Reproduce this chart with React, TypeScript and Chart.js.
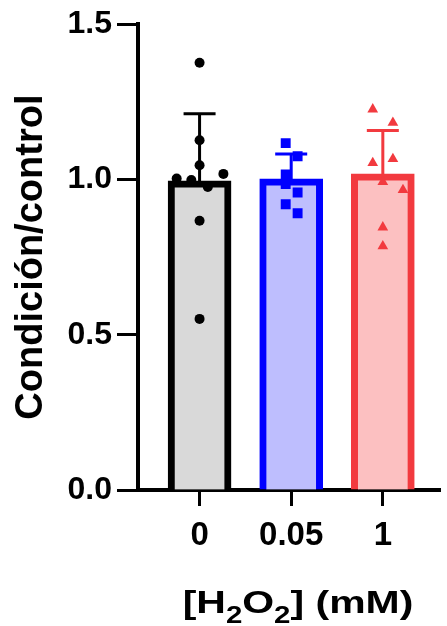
import React, { useEffect, useRef } from 'react';
import { Chart, registerables } from 'chart.js';

Chart.register(...registerables);

// ---- data ----
const categories = ['0', '0.05', '1'];
const yTicks = [0, 0.5, 1.0, 1.5];
const barMeans = [0.996, 1.002, 1.018];
const barSD = [0.216, 0.08, 0.14];

const pointsCtrl = [1.376, 1.126, 1.046, 1.018, 1.003, 0.998, 0.976, 0.867, 0.551];
const jitterCtrl = [0, 0, 0, 0.26, -0.25, -0.09, 0.09, 0, 0];
const points005 = [1.117, 1.075, 1.016, 0.985, 0.958, 0.92, 0.891];
const jitter005 = [-0.06, 0.07, -0.06, -0.06, 0.07, -0.06, 0.07];
const points1 = [1.226, 1.183, 1.066, 1.053, 0.992, 0.966, 0.846, 0.785];
const jitter1 = [-0.11, 0.11, 0.11, -0.11, 0, 0.22, 0, 0];

const borderColors = ['#000000', '#0000FF', '#F23A3F'];
const fillColors = ['#D9D9D9', '#BEBEFE', '#FCC0C1'];

const FONT = '"Liberation Sans", Arial, Helvetica, sans-serif';

export default function App() {
  const ref = useRef<HTMLCanvasElement>(null);

  useEffect(() => {
    document.body.style.margin = '0';
    document.body.style.overflow = 'hidden';
    const canvas = ref.current!;

    const errorBars = {
      id: 'errorBars',
      afterDatasetDraw(chart: any, args: any) {
        if (args.index !== 0) return;
        const { ctx, scales } = chart;
        const x = scales.x;
        const y = scales.y;
        ctx.save();
        barMeans.forEach((m, i) => {
          const px = x.getPixelForValue(i);
          const top = y.getPixelForValue(m + barSD[i]);
          const base = y.getPixelForValue(m);
          ctx.strokeStyle = borderColors[i];
          ctx.lineWidth = 3;
          ctx.beginPath();
          ctx.moveTo(px, base + 4);
          ctx.lineTo(px, top);
          ctx.moveTo(px - 16, top);
          ctx.lineTo(px + 16, top);
          ctx.stroke();
        });
        ctx.restore();
      },
    };

    const xTitle = {
      id: 'xTitle',
      afterDraw(chart: any) {
        const { ctx } = chart;
        const parts: [string, boolean][] = [
          ['[H', false],
          ['2', true],
          ['O', false],
          ['2', true],
          ['] (mM)', false],
        ];
        const big = `bold 32px ${FONT}`;
        const small = `bold 23px ${FONT}`;
        ctx.save();
        let w = 0;
        parts.forEach(([t, sub]) => {
          ctx.font = sub ? small : big;
          w += ctx.measureText(t).width;
        });
        const sx = 1.28;
        const cx = 298;
        const baseY = 613;
        ctx.translate(cx, baseY);
        ctx.scale(sx, 1);
        let xx = -w / 2;
        ctx.fillStyle = '#000';
        ctx.textBaseline = 'alphabetic';
        ctx.textAlign = 'left';
        parts.forEach(([t, sub]) => {
          ctx.font = sub ? small : big;
          ctx.fillText(t, xx, sub ? 10 : 0);
          xx += ctx.measureText(t).width;
        });
        ctx.restore();
      },
    };

    const scatterDs = (
      vals: number[],
      jit: number[],
      idx: number,
      style: string,
      radius: number
    ) => ({
      type: 'scatter' as const,
      data: vals.map((v, k) => ({ x: idx + jit[k], y: v })),
      pointStyle: style,
      pointRadius: radius,
      pointHoverRadius: radius,
      pointBackgroundColor: borderColors[idx],
      pointBorderColor: borderColors[idx],
      pointBorderWidth: 0,
      showLine: false,
      order: 0,
    });

    const chart = new Chart(canvas, {
      type: 'bar',
      data: {
        datasets: [
          {
            type: 'bar',
            data: barMeans.map((v, i) => ({ x: i, y: v })),
            backgroundColor: fillColors,
            borderColor: borderColors,
            borderWidth: 7,
            borderSkipped: 'start',
            barThickness: 63,
            order: 10,
          } as any,
          scatterDs(pointsCtrl, jitterCtrl, 0, 'circle', 5),
          scatterDs(points005, jitter005, 1, 'rect', 7),
          scatterDs(points1, jitter1, 2, 'triangle', 6.2),
        ],
      },
      options: {
        animation: false,
        responsive: false,
        maintainAspectRatio: false,
        layout: { padding: { top: 20, right: 0, bottom: 0, left: 0 } },
        plugins: {
          legend: { display: false },
          tooltip: { enabled: false },
        },
        scales: {
          x: {
            type: 'linear',
            offset: false,
            min: -0.672,
            max: 2.624,
            afterBuildTicks: (s: any) => {
              s.ticks = categories.map((_, i) => ({ value: i }));
            },
            afterFit: (s: any) => {
              s.height = 136;
            },
            ticks: {
              callback: (v: any) => categories[Math.round(Number(v))],
              color: '#000',
              font: { family: FONT, size: 33, weight: 'bold' },
              padding: 10,
              maxRotation: 0,
              autoSkip: false,
            },
            grid: {
              display: true,
              offset: false,
              drawOnChartArea: false,
              drawTicks: true,
              tickLength: 16,
              tickWidth: 3,
              tickColor: '#000',
            },
            border: { display: true, width: 4, color: '#000' },
          },
          y: {
            type: 'linear',
            min: 0,
            max: 1.5,
            afterBuildTicks: (s: any) => {
              s.ticks = yTicks.map((v) => ({ value: v }));
            },
            afterFit: (s: any) => {
              s.width = 138;
            },
            ticks: {
              callback: (v: any) => Number(v).toFixed(1),
              color: '#000',
              font: { family: FONT, size: 32, weight: 'bold' },
              padding: 5,
            },
            grid: {
              display: true,
              drawOnChartArea: false,
              drawTicks: true,
              tickLength: 21,
              tickWidth: 3,
              tickColor: '#000',
            },
            border: { display: true, width: 4, color: '#000' },
            title: {
              display: true,
              text: 'Condición/control',
              color: '#000',
              font: { family: FONT, size: 38, weight: 'bold' },
              padding: { top: 9, bottom: 0 },
            },
          },
        },
      },
      plugins: [errorBars, xTitle],
    });

    return () => chart.destroy();
  }, []);

  return (
    <div style={{ width: 447, height: 626 }}>
      <canvas ref={ref} width={447} height={626} style={{ display: 'block' }} />
    </div>
  );
}
